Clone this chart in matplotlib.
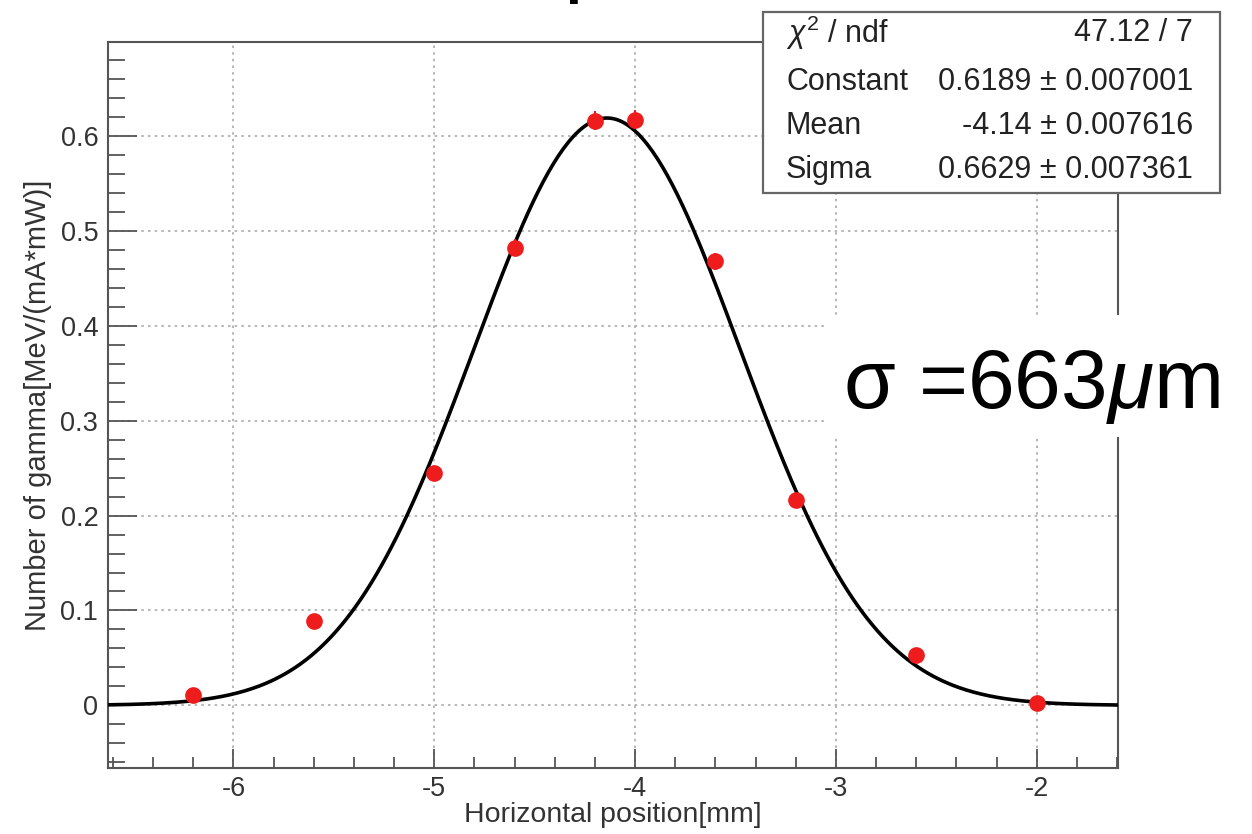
import numpy as np
import matplotlib
matplotlib.use("Agg")
import matplotlib.pyplot as plt
from matplotlib.patches import Rectangle
from matplotlib.ticker import MultipleLocator

plt.rcParams['font.family'] = ['Liberation Sans', 'DejaVu Sans']
plt.rcParams['mathtext.fontset'] = 'custom'
plt.rcParams['mathtext.rm'] = 'Liberation Sans'
plt.rcParams['mathtext.it'] = 'Liberation Sans:italic'

# measured points
x_pos = [-6.2, -5.6, -5.0, -4.6, -4.2, -4.0, -3.6, -3.2, -2.6, -2.0]
gamma = [0.011, 0.089, 0.245, 0.482, 0.616, 0.617, 0.468, 0.216, 0.053, 0.002]
gamma_err = [0.004, 0.005, 0.007, 0.009, 0.010, 0.010, 0.009, 0.007, 0.005, 0.004]

# gaussian fit results (stat box)
fit_const = 0.6189
fit_mean = -4.14
fit_sigma = 0.6629
stat_labels = [r"$\chi^2$ / ndf", "Constant", "Mean", "Sigma"]
stat_values = ["47.12 / 7", "0.6189 \u00b1 0.007001", "-4.14 \u00b1 0.007616", "0.6629 \u00b1 0.007361"]

xlim = (-6.625, -1.595)
ylim = (-0.066, 0.699)

fig = plt.figure(figsize=(12.52, 8.34), dpi=100)
ax = fig.add_axes([108/1252, 1 - 768/834, 1010/1252, 726/834])

xf = np.linspace(xlim[0], xlim[1], 400)
yf = fit_const * np.exp(-0.5 * ((xf - fit_mean) / fit_sigma) ** 2)
ax.plot(xf, yf, color="black", lw=2.6, zorder=3)
ax.errorbar(x_pos, gamma, yerr=gamma_err, fmt="o", color="#ee1c1c", ms=11,
            elinewidth=1.5, capsize=0, zorder=4)

ax.set_xlim(*xlim)
ax.set_ylim(*ylim)
ax.xaxis.set_minor_locator(MultipleLocator(0.2))
ax.yaxis.set_minor_locator(MultipleLocator(0.02))
ax.set_yticks([0, 0.1, 0.2, 0.3, 0.4, 0.5, 0.6])
ax.set_yticklabels(["0", "0.1", "0.2", "0.3", "0.4", "0.5", "0.6"])
ax.set_xticks([-6, -5, -4, -3, -2])
ax.set_xticklabels(["-6", "-5", "-4", "-3", "-2"])

ax.tick_params(axis="both", which="both", direction="in", colors="#555555",
               labelcolor="#333333", labelsize=19.5, width=1.3)
ax.tick_params(axis="x", which="major", length=14, pad=6)
ax.tick_params(axis="x", which="minor", length=8)
ax.tick_params(axis="y", which="major", length=21, pad=7)
ax.tick_params(axis="y", which="minor", length=12)
for s in ax.spines.values():
    s.set_color("#555555")
    s.set_linewidth(1.5)

ax.grid(True, which="major", color="#aaaaaa", ls=(0, (1.5, 2.5)), lw=1.2)
ax.set_axisbelow(True)

ax.set_xlabel("Horizontal position[mm]", fontsize=20.5, color="#333333", labelpad=0)
ax.set_ylabel("Number of gamma[MeV/(mA*mW)]", fontsize=21, color="#333333", labelpad=6)

# cut-off title fragment at top
fig.text(0.4515, 1 + 8/834, "p", fontsize=41, fontweight="bold", va="baseline")

# stat box
fig.patches.append(Rectangle((763/1252, 1 - 193/834), 457/1252, 181/834,
                             transform=fig.transFigure, facecolor="white",
                             edgecolor="#666666", lw=1.6, zorder=10))
row_y = [1 - 33/834, 1 - 82/834, 1 - 126/834, 1 - 170/834]
for lab, val, yy in zip(stat_labels, stat_values, row_y):
    fig.text(786/1252, yy, lab, fontsize=22, color="#222222", va="center", ha="left", zorder=11)
    fig.text(1193/1252, yy, val, fontsize=22, color="#222222", va="center", ha="right", zorder=11)

# sigma annotation on white patch
fig.patches.append(Rectangle((827/1252, 1 - 437/834), 430/1252, 122/834,
                             transform=fig.transFigure, facecolor="white",
                             edgecolor="none", zorder=10))
fig.text(843/1252, 1 - 408/834, "\u03c3 =663$\\mu$m", fontsize=60.5, color="black",
         va="baseline", ha="left", zorder=11)

fig.savefig("out.png", dpi=100)
